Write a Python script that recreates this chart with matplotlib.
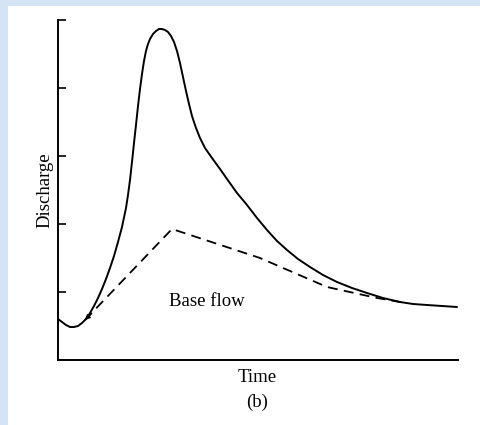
# -*- coding: utf-8 -*-
#%% Importações

import matplotlib.pyplot as plt
from matplotlib.patches import Rectangle

#%% Dados (unidades arbitrárias)

# hidrograma: tempo (0-400) e vazão (0-340)
tempo = [0, 4, 8, 12, 16, 20, 24, 28, 32, 36, 40, 44, 48, 52, 56, 60, 64, 68, 70, 72,
         74, 76, 78, 80, 82, 84, 86, 88, 90, 92, 95, 98, 101, 104, 107, 110, 113, 116,
         119, 122, 125, 128, 131, 134, 138, 142, 147, 154, 162, 169, 179, 189, 199,
         209, 219, 229, 240, 252, 265, 279, 294, 309, 325, 342, 355, 369, 384, 399]
vazao = [41, 38, 35, 33, 33, 34, 37, 41, 47, 54, 62, 71, 81, 92, 104, 118, 133, 152,
         165, 180, 198, 217, 235, 254, 271, 286, 299, 309, 316, 321, 326, 329, 331,
         331, 330, 328, 324, 318, 309, 297, 283, 269, 256, 244, 232, 222, 212, 202,
         191, 181, 167, 155, 142, 130, 119, 110, 101, 93, 85, 78, 72, 67, 62, 58, 56,
         55, 54, 53]

# separação do escoamento de base
tempo_base = [27, 114, 202, 269, 319, 348]
vazao_base = [40, 131, 102, 73, 62, 57]

marcas_y = [68, 136, 204, 272, 340]

#%% Plotagem

plt.rcParams['font.family'] = ['Liberation Serif', 'DejaVu Serif']

fig = plt.figure(figsize=(4.81, 4.25), dpi=100)
fig.patch.set_facecolor('#d4e4f4')

# fundo branco da página escaneada
fundo = fig.add_axes([0, 0, 1, 1])
fundo.set_axis_off()
fundo.set_zorder(0)
fundo.add_patch(Rectangle((8 / 481, 0), 1 - 8 / 481, 419 / 425,
                          transform=fundo.transAxes, facecolor='white',
                          edgecolor='none'))

ax = fig.add_axes([58 / 481, 65 / 425, 400 / 481, 340 / 425])
ax.set_zorder(2)
ax.set_facecolor('none')

ax.plot(tempo, vazao, color='black', lw=1.4, solid_capstyle='round',
        solid_joinstyle='round')
ax.plot(tempo_base, vazao_base, color='black', lw=1.3, dashes=(5.5, 3.5))
ax.annotate('', xy=(tempo_base[0], vazao_base[0]),
            xytext=(tempo_base[0] + 6, vazao_base[0] + 6),
            arrowprops=dict(arrowstyle='-|>', color='black', lw=1.0,
                            mutation_scale=7, shrinkA=0, shrinkB=0))

ax.text(149, 58, 'Base flow', fontsize=13.5, ha='center', va='center')

# Configurações adicionais
ax.set_xlim(0, 400)
ax.set_ylim(0, 340)
for lado in ['top', 'right']:
    ax.spines[lado].set_visible(False)
for lado in ['left', 'bottom']:
    ax.spines[lado].set_linewidth(1.4)
ax.set_xticks([])
ax.set_yticks(marcas_y)
ax.set_yticklabels([])
ax.tick_params(axis='y', direction='in', length=6, width=1.2)

fig.text(45 / 481, 1 - 190 / 425, 'Discharge', rotation=90, fontsize=13.5,
         ha='center', va='center', zorder=3)
fig.text(257 / 481, 1 - 378 / 425, 'Time', fontsize=13.5, ha='center', va='center', zorder=3)
fig.text(257 / 481, 1 - 402 / 425, '(b)', fontsize=13.5, ha='center', va='center', zorder=3)

fig.savefig('out.png', dpi=100, facecolor=fig.get_facecolor())
